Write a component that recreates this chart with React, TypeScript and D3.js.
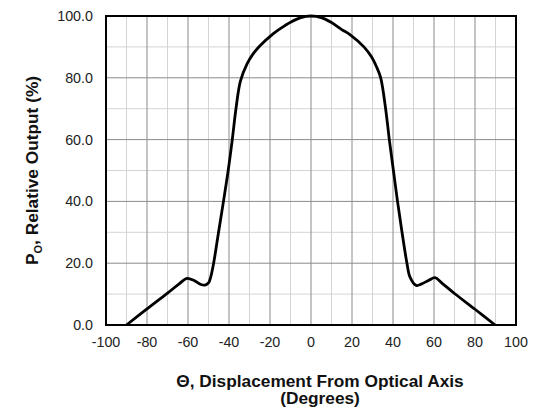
import React from "react";
import * as d3 from "d3";

const angles = [-90, -80, -70, -64, -60.5, -57, -54, -51.7, -50, -48.9, -47.5, -45.1, -42.7, -40.4, -38.4, -36.6, -34.4, -31.2, -28.5, -25, -18.5, -15, -10, -5, 0,
  5, 10, 15, 19, 25.8, 29.5, 32, 34, 36.4, 38.2, 40.2, 42.2, 44.4, 46.8, 48.3, 51.3, 54, 57.5, 60.5, 64, 70, 80, 89.8];
const output = [0, 5.2, 10.3, 13.5, 15.1, 14.4, 13.2, 12.9, 13.6, 15.6, 20, 30, 40, 50, 60, 70, 79, 84.5, 87.5, 90.3, 94.2, 95.9, 98, 99.5, 100,
  99.5, 97.9, 95.6, 94, 90, 86.8, 83.5, 80, 70, 60, 50, 40, 30, 20, 15.5, 12.8, 13.3, 14.5, 15.3, 13.5, 10.2, 5.1, 0];
const xTicks = [-100, -80, -60, -40, -20, 0, 20, 40, 60, 80, 100];
const yTicks = [0, 20, 40, 60, 80, 100];
const xMinor = [-90, -70, -50, -30, -10, 10, 30, 50, 70, 90];
const yMinor = [10, 30, 50, 70, 90];

const W = 542, H = 412;
const L = 106, R = 516, T = 16, B = 325;

export default function App() {
  const x = d3.scaleLinear().domain([-100, 100]).range([L, R]);
  const y = d3.scaleLinear().domain([0, 100]).range([B, T]);
  const pts: [number, number][] = angles.map((a, i) => [a, output[i]]);
  const line = d3.line<[number, number]>().x(d => x(d[0])).y(d => y(d[1])).curve(d3.curveCatmullRom.alpha(0.5));
  const font = "'Liberation Sans', Arial, sans-serif";
  return (
    <svg width={W} height={H} style={{ position: "absolute", left: 0, top: 0, background: "#fff" }} fontFamily={font}>
      <rect x={0} y={0} width={W} height={H} fill="#fff" />
      {xMinor.map(v => <line key={"xm" + v} x1={x(v)} x2={x(v)} y1={T} y2={B} stroke="#d4d4d4" strokeWidth={1} />)}
      {yMinor.map(v => <line key={"ym" + v} x1={L} x2={R} y1={y(v)} y2={y(v)} stroke="#d4d4d4" strokeWidth={1} />)}
      {xTicks.slice(1, -1).map(v => <line key={"xg" + v} x1={x(v)} x2={x(v)} y1={T} y2={B} stroke="#8a8a8a" strokeWidth={1} />)}
      {yTicks.slice(1, -1).map(v => <line key={"yg" + v} x1={L} x2={R} y1={y(v)} y2={y(v)} stroke="#8a8a8a" strokeWidth={1} />)}
      <rect x={L} y={T} width={R - L} height={B - T} fill="none" stroke="#000" strokeWidth={2} />
      <path d={line(pts) || ""} fill="none" stroke="#000" strokeWidth={2.8} strokeLinejoin="round" />
      {yTicks.map(v => (
        <text key={"yt" + v} x={L - 13} y={y(v)} dy="0.35em" textAnchor="end" fontSize={14.3} fill="#222">{v.toFixed(1)}</text>
      ))}
      {xTicks.map(v => (
        <text key={"xt" + v} x={x(v)} y={B + 17} dy="0.35em" textAnchor="middle" fontSize={14.3} fill="#222">{v}</text>
      ))}
      <text x={320} y={387} textAnchor="middle" fontSize={17.3} fontWeight="bold" fill="#111">Θ, Displacement From Optical Axis</text>
      <text x={320} y={404} textAnchor="middle" fontSize={17.3} fontWeight="bold" fill="#111">(Degrees)</text>
      <text transform={`translate(38,${(T + B) / 2}) rotate(-90)`} textAnchor="middle" fontSize={17.3} fontWeight="bold" fill="#111">
        P<tspan fontSize={11} dy="4">O</tspan><tspan dy="-4">, Relative Output (%)</tspan>
      </text>
    </svg>
  );
}
